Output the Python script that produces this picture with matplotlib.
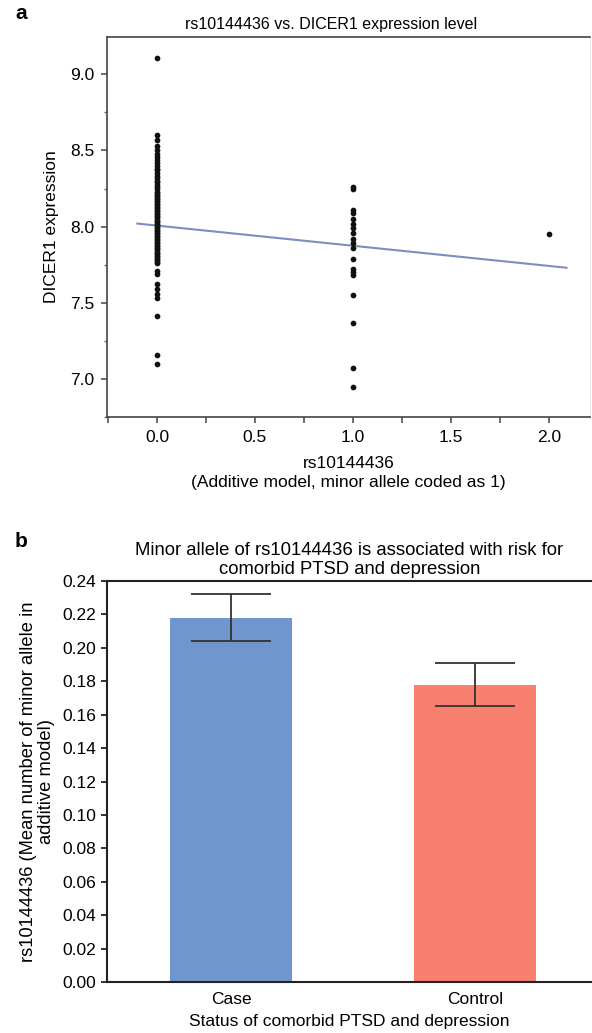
import matplotlib
matplotlib.use("Agg")
import matplotlib.pyplot as plt
import numpy as np

plt.rcParams['font.family'] = ['Liberation Sans', 'DejaVu Sans']

# ---------------- data: panel a ----------------
geno_0_expr = [9.11, 8.60, 8.57, 8.53, 8.50, 8.48, 8.46, 8.44, 8.42, 8.40, 8.38, 8.37,
               8.35, 8.33, 8.32, 8.30, 8.29, 8.27, 8.26, 8.25, 8.23, 8.22, 8.21, 8.20,
               8.19, 8.18, 8.17, 8.16, 8.15, 8.14, 8.13, 8.12, 8.11, 8.10, 8.09, 8.08,
               8.07, 8.06, 8.05, 8.04, 8.03, 8.02, 8.01, 8.00, 7.99, 7.98, 7.97, 7.96,
               7.95, 7.94, 7.93, 7.92, 7.91, 7.90, 7.89, 7.88, 7.87, 7.86, 7.85, 7.84,
               7.83, 7.82, 7.81, 7.80, 7.79, 7.78, 7.77, 7.76, 7.71, 7.69, 7.62, 7.59,
               7.56, 7.53, 7.41, 7.16, 7.10]
geno_1_expr = [8.26, 8.25, 8.11, 8.09, 8.05, 8.02, 7.99, 7.96, 7.92, 7.89, 7.86, 7.79,
               7.72, 7.70, 7.68, 7.55, 7.37, 7.07, 6.95]
geno_2_expr = [7.95]
fit_x = [-0.10, 2.09]
fit_y = [8.02, 7.73]
a_xticks = [0.0, 0.5, 1.0, 1.5, 2.0]
a_yticks = [7.0, 7.5, 8.0, 8.5, 9.0]

# ---------------- data: panel b ----------------
groups = ['Case', 'Control']
mean_minor = [0.218, 0.178]
err_minor = [0.014, 0.013]
bar_colors = ['#7097cd', '#f8806e']
b_yticks = [0.00, 0.02, 0.04, 0.06, 0.08, 0.10, 0.12, 0.14, 0.16, 0.18, 0.20, 0.22, 0.24]

W, H = 592, 1033
fig = plt.figure(figsize=(W / 100, H / 100), dpi=100)

def box(l, t, r, b):
    return [l / W, 1 - b / H, (r - l) / W, (b - t) / H]

# ---------------- panel a ----------------
ax = fig.add_axes(box(107, 37, 590, 417))
xs = [0] * len(geno_0_expr) + [1] * len(geno_1_expr) + [2] * len(geno_2_expr)
ys = geno_0_expr + geno_1_expr + geno_2_expr
ax.scatter(xs, ys, s=17, color='#111111', zorder=3, linewidths=0)
ax.plot(fit_x, fit_y, color='#7d8dbd', lw=1.5, zorder=2)
ax.set_xlim(-0.255, 2.21)
ax.set_ylim(6.75, 9.245)
ax.set_xticks(a_xticks)
ax.set_xticklabels([f"{v:.1f}" for v in a_xticks])
ax.set_xticks([-0.25, 0.25, 0.75, 1.25, 1.75], minor=True)
ax.set_yticks(a_yticks)
ax.set_yticklabels([f"{v:.1f}" for v in a_yticks])
ax.set_yticks([6.75, 7.25, 7.75, 8.25, 8.75], minor=True)
ax.tick_params(axis='both', which='major', labelsize=12.5, length=4, width=1.1,
               color='#444444', pad=5)
ax.tick_params(axis='x', which='minor', length=4, width=1.1, color='#444444')
ax.tick_params(axis='y', which='minor', length=2.5, width=1.0, color='#666666')
for s in ['left', 'bottom', 'top']:
    ax.spines[s].set_color('#444444')
    ax.spines[s].set_linewidth(1.2)
ax.spines['right'].set_color('#e6e6e6')
ax.spines['right'].set_linewidth(0.8)
ax.set_title('rs10144436 vs. DICER1 expression level', fontsize=11.5, x=0.463, pad=6)
ax.set_xlabel('rs10144436\n(Additive model, minor allele coded as 1)', fontsize=12.5,
              labelpad=8, linespacing=1.4)
ax.set_ylabel('DICER1 expression', fontsize=12.5, labelpad=8)

# ---------------- panel b ----------------
bx = fig.add_axes(box(107, 581, 592, 982))
xpos = np.arange(len(groups))
bx.bar(xpos, mean_minor, width=0.5, color=bar_colors, zorder=2)
bx.errorbar(xpos, mean_minor, yerr=err_minor, fmt='none', ecolor='#333333',
            elinewidth=1.3, capsize=29, capthick=1.3, zorder=3)
bx.set_xlim(-0.51, 1.48)
bx.set_ylim(0, 0.24)
bx.set_yticks(b_yticks)
bx.set_yticklabels([f"{v:.2f}" for v in b_yticks])
bx.set_xticks(xpos)
bx.set_xticklabels(groups)
bx.tick_params(axis='y', labelsize=12.5, length=4, width=1.3, color='#222222', pad=4)
bx.tick_params(axis='x', labelsize=12.5, length=0, pad=7)
for s in ['left', 'bottom', 'top']:
    bx.spines[s].set_color('#222222')
    bx.spines[s].set_linewidth(1.5)
bx.spines['right'].set_visible(False)
bx.set_title('Minor allele of rs10144436 is associated with risk for\ncomorbid PTSD and depression',
             fontsize=13.3, pad=5, linespacing=1.15)
bx.set_xlabel('Status of comorbid PTSD and depression', fontsize=12.5, labelpad=5)
bx.set_ylabel('rs10144436 (Mean number of minor allele in\nadditive model)', fontsize=13.2,
              labelpad=5, linespacing=1.05)

# panel letters
fig.text(15 / W, 1 - 19 / H, 'a', fontsize=15, fontweight='bold', ha='left', va='baseline')
fig.text(15 / W, 1 - 547 / H, 'b', fontsize=15, fontweight='bold', ha='left', va='baseline')

fig.savefig('out.png', dpi=100)
